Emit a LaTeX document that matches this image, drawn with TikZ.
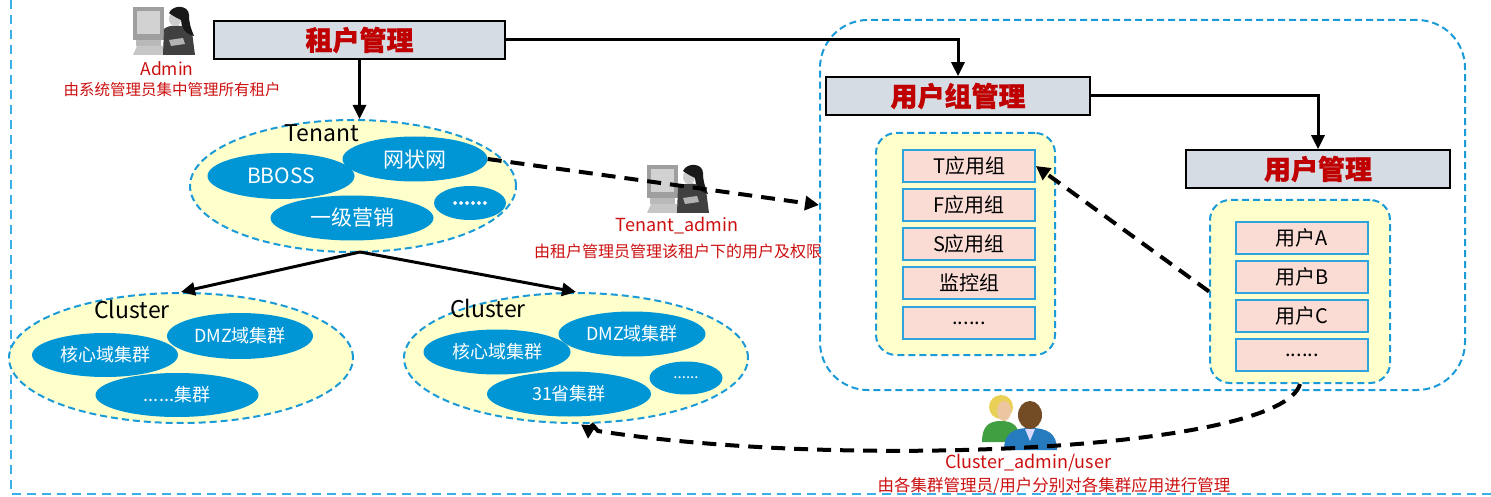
\documentclass[tikz,border=0pt]{standalone}
\usepackage{fontspec}
\setmainfont{Noto Sans CJK SC}[BoldFeatures={FakeBold=1.2}]
\usetikzlibrary{arrows.meta,shapes.geometric}

\definecolor{frameblue}{HTML}{3AAEE5}
\definecolor{dashblue}{HTML}{1A9AD6}
\definecolor{ellblue}{HTML}{0096D6}
\definecolor{paleyellow}{HTML}{FFFFCC}
\definecolor{boxgray}{HTML}{D6DCE4}
\definecolor{titlered}{HTML}{C00000}
\definecolor{notered}{HTML}{CC1010}
\definecolor{itempink}{HTML}{FADCD5}
\definecolor{itemblue}{HTML}{2EA3DC}

\tikzset{
  fs/.style={font=\fontsize{#1}{#1}\selectfont},
  titlebox/.style={draw=black, line width=1.6pt, fill=boxgray, text=titlered,
    inner sep=0pt, font=\bfseries\fontsize{27}{27}\selectfont},
  bluedash/.style={draw=dashblue, line width=2pt, dash pattern=on 7pt off 4pt},
  cloud/.style={ellipse, bluedash, fill=paleyellow, inner sep=0pt},
  blob/.style={ellipse, fill=ellblue, text=white, inner sep=0pt},
  holder/.style={rectangle, bluedash, fill=paleyellow, rounded corners=20pt, inner sep=0pt},
  item/.style={rectangle, draw=itemblue, line width=1.6pt, fill=itempink,
    minimum width=132, minimum height=32, inner sep=0pt, fs=20},
  note/.style={text=notered, inner sep=0pt},
  conn/.style={line width=3pt, -{Triangle[length=14pt,width=13pt]}},
  dconn/.style={line width=4pt, dash pattern=on 14pt off 9pt, -{Triangle[length=14pt,width=14pt]}},
  % a person at a desktop computer, drawn in grey tones
  pcuser/.pic={
    \fill[gray!75] (0,2) rectangle (31,35);
    \fill[gray!35] (4,6) rectangle (27,29);
    \fill[gray!55] (3,35) rectangle (28,41);
    \fill[gray!45] (4,41) -- (37,41) -- (41,50) -- (0,50) -- cycle;
    \fill[black!75] (31,24) .. controls (36,19) and (54,19) .. (59,27) -- (62,50) -- (30,50) -- cycle;
    \fill[gray!40] (42,14) ellipse (6 and 7);
    \fill[black!90] (36,8) .. controls (40,-1) and (56,0) .. (56,10)
      .. controls (56,18) and (58,24) .. (61,31) .. controls (52,29) and (48,22) .. (48,15)
      .. controls (44,13) and (40,11) .. (36,8) -- cycle;
    \fill[gray!60] (36,35) -- (50,33) -- (52,39) -- (38,41) -- cycle;
  },
  % two users, one behind the other
  twousers/.pic={
    \fill[green!50!black!75] (2,48) .. controls (2,32) and (9,27) .. (21,27)
      .. controls (33,27) and (40,32) .. (40,48) -- cycle;
    \fill[yellow!55!brown!80] (21,13) circle (12);
    \fill[orange!30!brown!45] (24,17) ellipse (7 and 10);
    \fill[blue!45!cyan!70!black!85] (24,56) .. controls (24,39) and (33,34) .. (50,34)
      .. controls (67,34) and (77,39) .. (77,56) -- cycle;
    \fill[white!85!blue] (45,35) -- (50,47) -- (55,35) -- cycle;
    \fill[brown!60!black] (50,21) ellipse (12 and 14);
  }
}

\begin{document}
\begin{tikzpicture}[x=1pt,y=-1pt]
\useasboundingbox (0,0) rectangle (1491,497);

% page frame (left and bottom edges)
\draw[frameblue, line width=2pt, dash pattern=on 9pt off 6pt] (11,0) -- (11,494) -- (1491,494);

% ---------- tenant management ----------
\pic at (133,5) {pcuser};
\node[note, fs=17.5] (admin) at (167,69) {Admin};
\node[note, fs=15.5] (admintxt) at (172,90) {由系统管理员集中管理所有租户};

\node[titlebox, minimum width=291, minimum height=38] (tm) at (359.5,40) {租户管理};

% tenants
\node[cloud, minimum width=326, minimum height=132] (tenant) at (353,186) {};
\node[blob, minimum width=147, minimum height=46, fs=21] (bboss) at (281,176) {BBOSS};
\node[blob, minimum width=145, minimum height=45, fs=21] (wzw) at (415,159) {网状网};
\node[blob, minimum width=163, minimum height=45, fs=21] (yjyx) at (352,218) {一级营销};
\node[blob, minimum width=72, minimum height=34, fs=17] (tmore) at (470,203) {\textbf{......}};
\node[fs=23, inner sep=0pt] (tlabel) at (322,133) {Tenant};

% clusters
\node[cloud, minimum width=344, minimum height=130] (cla) at (181,358) {};
\node[blob, minimum width=146, minimum height=44, fs=18] (cla1) at (105,355) {核心域集群};
\node[blob, minimum width=146, minimum height=46, fs=18] (cla2) at (240,336) {DMZ域集群};
\node[blob, minimum width=163, minimum height=44, fs=18] (cla3) at (177,395) {......集群};
\node[fs=23, inner sep=0pt] (clalabel) at (132,309) {Cluster};

\node[cloud, minimum width=344, minimum height=130] (clb) at (576,358) {};
\node[blob, minimum width=147, minimum height=45, fs=18] (clb1) at (497,352) {核心域集群};
\node[blob, minimum width=147, minimum height=45, fs=18] (clb2) at (632,334) {DMZ域集群};
\node[blob, minimum width=164, minimum height=45, fs=18] (clb3) at (569,394) {31省集群};
\node[blob, minimum width=73, minimum height=33, fs=15] (clb4) at (686,378) {......};
\node[fs=23, inner sep=0pt] (clblabel) at (488,308) {Cluster};

% tenant admin
\pic at (647,163) {pcuser};
\node[note, fs=18] (tadmin) at (677,226) {Tenant\_admin};
\node[note, fs=16] (tadmintxt) at (678,251) {由租户管理员管理该租户下的用户及权限};

% ---------- user group / user management ----------
\node[rectangle, bluedash, rounded corners=48pt, minimum width=645, minimum height=370, inner sep=0pt] (ugarea) at (1142.5,205) {};
\node[titlebox, minimum width=264, minimum height=38] (ugm) at (958,96) {用户组管理};
\node[titlebox, minimum width=264, minimum height=38] (um) at (1318,169) {用户管理};

\node[holder, minimum width=179, minimum height=222] (gholder) at (965.5,244) {};
\node[item] (g1) at (969,166) {T应用组};
\node[item] (g2) at (969,205) {F应用组};
\node[item] (g3) at (969,244) {S应用组};
\node[item] (g4) at (969,283) {监控组};
\node[item] (g5) at (969,323) {......};

\node[holder, minimum width=180, minimum height=183] (uholder) at (1300,291.5) {};
\node[item] (u1) at (1302,238) {用户A};
\node[item] (u2) at (1302,277) {用户B};
\node[item] (u3) at (1302,316) {用户C};
\node[item] (u4) at (1302,355) {......};

% cluster admin / user
\pic at (980,394) {twousers};
\node[note, fs=18] (cadmin) at (1028,463) {Cluster\_admin/user};
\node[note, fs=16.5] (cadmintxt) at (1054,486) {由各集群管理员/用户分别对各集群应用进行管理};

% ---------- connectors ----------
\draw[conn] (tm.south) -- (tm.south |- tenant.north);
\draw[conn] (tm.east) -| (ugm.north);
\draw[conn] (ugm.east) -| (um.north);
\coordinate (tfork) at (360,252);
\draw[conn] (tfork) -- (cla.north);
\draw[conn] (tfork) -- (clb.north);

\draw[dconn] (wzw.east) -- (ugarea.west);
\draw[dconn] (uholder.west) -- (g1.east);
\coordinate (cbend) at (589,421);
\coordinate (ctip) at (588,439);
\draw[dconn] (uholder.south) .. controls (1282,450) and (850,470) .. (598,431) -- (cbend) -- (ctip);

\end{tikzpicture}
\end{document}
